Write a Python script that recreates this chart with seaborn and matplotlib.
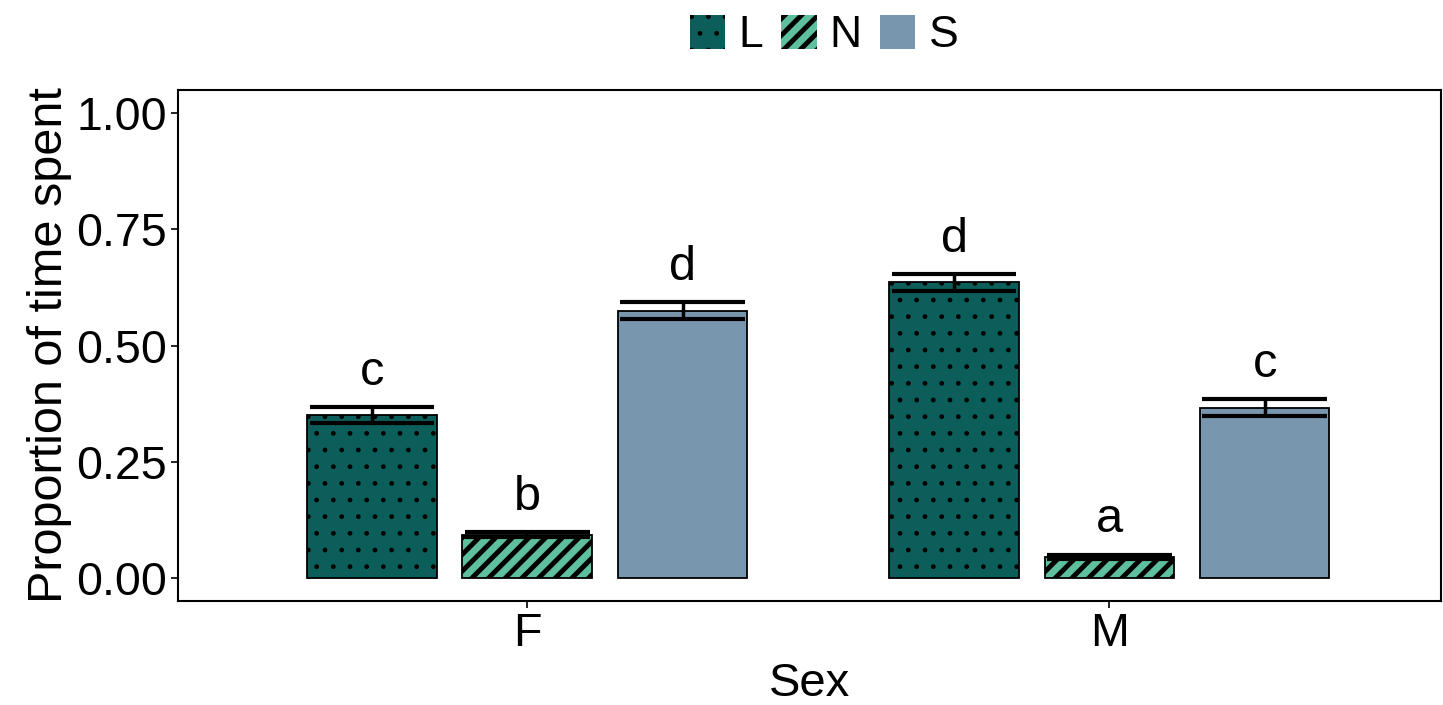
import matplotlib
matplotlib.use("Agg")
import matplotlib.pyplot as plt
import matplotlib.patches as mpatches
import seaborn as sns
import pandas as pd

# values
sexes = ["F", "M"]
conditions = ["L", "N", "S"]
mean_F = [0.350, 0.093, 0.575]
mean_M = [0.636, 0.045, 0.366]
se_F = [0.017, 0.005, 0.018]
se_M = [0.018, 0.005, 0.018]
letters_F = ["c", "b", "d"]
letters_M = ["d", "a", "c"]

colors = {"L": "#0c5e5a", "N": "#5dbf9d", "S": "#7896ae"}
hatches = {"L": ".", "N": "//", "S": ""}
hatch_lw = {"L": 1.0, "N": 3.5, "S": 1.0}

df = pd.DataFrame({
    "Sex": ["F"] * 3 + ["M"] * 3,
    "cond": conditions * 2,
    "prop": mean_F + mean_M,
    "se": se_F + se_M,
    "letter": letters_F + letters_M,
})

sns.set_style("white")
plt.rcParams["font.family"] = ["Liberation Sans", "DejaVu Sans"]
plt.rcParams["hatch.linewidth"] = 1.0
plt.rcParams["text.color"] = "black"
plt.rcParams["axes.labelcolor"] = "black"

fig = plt.figure(figsize=(14.43, 7.05), dpi=100)
ax = fig.add_axes([0.1234, 0.1475, 0.8753, 0.7248])

sns.barplot(data=df, x="Sex", y="prop", hue="cond", order=sexes,
            hue_order=conditions, palette=colors, errorbar=None,
            saturation=1, width=0.8, gap=0.165, edgecolor="black",
            linewidth=1.3, legend=False, ax=ax)

for cond, cont in zip(conditions, ax.containers):
    sub = df[df["cond"] == cond].set_index("Sex").loc[sexes]
    for bar, (_, row) in zip(cont.patches, sub.iterrows()):
        bar.set_hatch(hatches[cond])
        if hasattr(bar, "set_hatch_linewidth"):
            bar.set_hatch_linewidth(hatch_lw[cond])
        x0 = bar.get_x()
        w = bar.get_width()
        xc = x0 + w / 2
        lo, hi = row["prop"] - row["se"], row["prop"] + row["se"]
        ax.vlines(xc, lo, hi, color="black", lw=2.5, zorder=5)
        ax.hlines([lo, hi], x0 + w * 0.02, x0 + w * 0.98, color="black",
                  lw=3, zorder=5)
        ax.text(xc, hi + 0.048, row["letter"], ha="center", va="baseline",
                fontsize=35, color="black")

ax.set_xlim(-0.6, 1.57)
ax.set_ylim(-0.05, 1.05)
ax.set_yticks([0, 0.25, 0.5, 0.75, 1.0])
ax.set_yticklabels(["0.00", "0.25", "0.50", "0.75", "1.00"])
ax.tick_params(axis="both", labelsize=33.5, length=5, width=1.2,
               color="black", labelcolor="black", direction="out",
               bottom=True, left=True, pad=3)
ax.set_xlabel("Sex", fontsize=34, labelpad=4)
ax.set_ylabel("Proportion of time spent", fontsize=35, labelpad=3)
for sp in ax.spines.values():
    sp.set_visible(True)
    sp.set_color("black")
    sp.set_linewidth(1.5)

handles = [mpatches.Patch(facecolor=colors[c], edgecolor="black",
                          linewidth=0, hatch=hatches[c], label=c)
           for c in conditions]
leg = fig.legend(handles=handles, loc="center", bbox_to_anchor=(0.571, 0.95),
                 ncol=3, frameon=False, fontsize=32, handlelength=0.8,
                 handleheight=0.8, handletextpad=0.3, columnspacing=0.4,
                 borderpad=0.2)
for p, c in zip(leg.get_patches(), conditions):
    if hasattr(p, "set_hatch_linewidth"):
        p.set_hatch_linewidth(hatch_lw[c])

fig.savefig("out.png", dpi=100)
